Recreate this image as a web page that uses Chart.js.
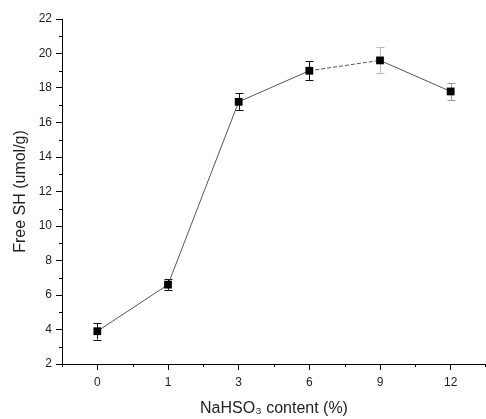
<!DOCTYPE html>
<html>
<head>
<meta charset="utf-8">
<script src="https://cdn.jsdelivr.net/npm/chart.js@4.4.1/dist/chart.umd.min.js"></script>
<style>
  html, body { margin: 0; padding: 0; background: #fff; }
  #wrap { width: 486px; height: 419px; }
</style>
</head>
<body>
<div id="wrap"><canvas id="chart"></canvas></div>
<script>
// NaHSO3 content (%) categories and measured free SH (umol/g)
const categories = ['0', '1', '3', '6', '9', '12'];
const freeSH = [3.9, 6.6, 17.2, 19.0, 19.6, 17.8];
const freeSHErr = [0.48, 0.3, 0.5, 0.55, 0.75, 0.5];
const yTicks = [2, 4, 6, 8, 10, 12, 14, 16, 18, 20, 22];

const FONT = 'Liberation Sans, Arial, sans-serif';
const errColors = ['#111', '#111', '#111', '#111', '#bbb', '#999'];

// error bars drawn under the markers
const errorBars = {
  id: 'errorBars',
  beforeDatasetsDraw(chart) {
    const { ctx, scales: { x, y } } = chart;
    ctx.save();
    ctx.lineWidth = 1;
    freeSH.forEach((v, i) => {
      const px = Math.round(x.getPixelForValue(i)) + 0.5;
      const top = y.getPixelForValue(v + freeSHErr[i]);
      const bot = y.getPixelForValue(v - freeSHErr[i]);
      ctx.strokeStyle = errColors[i];
      ctx.beginPath();
      ctx.moveTo(px, top);
      ctx.lineTo(px, bot);
      ctx.moveTo(px - 4, Math.round(top) + 0.5);
      ctx.lineTo(px + 4, Math.round(top) + 0.5);
      ctx.moveTo(px - 4, Math.round(bot) + 0.5);
      ctx.lineTo(px + 4, Math.round(bot) + 0.5);
      ctx.stroke();
    });
    ctx.restore();
  }
};

// minor ticks between the major ones
const minorTicks = {
  id: 'minorTicks',
  afterDraw(chart) {
    const { ctx, chartArea, scales: { x, y } } = chart;
    ctx.save();
    ctx.strokeStyle = '#000';
    ctx.lineWidth = 1;
    ctx.beginPath();
    for (let i = 1; i < yTicks.length; i += 1) {
      const py = Math.round(y.getPixelForValue((yTicks[i - 1] + yTicks[i]) / 2)) + 0.5;
      ctx.moveTo(chartArea.left - 3, py);
      ctx.lineTo(chartArea.left, py);
    }
    for (let i = -0.5; i <= categories.length - 0.5; i += 1) {
      const px = Math.min(Math.round(x.getPixelForValue(i)) + 0.5, chart.width - 0.5);
      ctx.moveTo(px, chartArea.bottom);
      ctx.lineTo(px, chartArea.bottom + 3);
    }
    ctx.stroke();
    ctx.restore();
  }
};

const ctx = document.getElementById('chart').getContext('2d');
new Chart(ctx, {
  type: 'line',
  data: {
    datasets: [{
      data: freeSH.map((v, i) => ({ x: i, y: v })),
      borderColor: '#555',
      borderWidth: 1,
      backgroundColor: '#000',
      pointStyle: 'rect',
      pointRadius: 5.5,
      pointBorderWidth: 0,
      pointBackgroundColor: '#000',
      clip: false,
      segment: {
        borderDash: (c) => (c.p0DataIndex === 3 ? [4, 2] : undefined),
      },
    }],
  },
  options: {
    responsive: true,
    maintainAspectRatio: false,
    animation: false,
    layout: { autoPadding: false, padding: { top: 19, right: 0, left: 0, bottom: 0 } },
    plugins: { legend: { display: false }, tooltip: { enabled: false } },
    scales: {
      x: {
        type: 'linear',
        min: -0.5,
        max: categories.length - 0.5,
        afterBuildTicks: (scale) => { scale.ticks = categories.map((_, i) => ({ value: i })); },
        afterFit: (scale) => { scale.height = 55; },
        border: { display: true, color: '#000', width: 1 },
        grid: { display: true, drawOnChartArea: false, drawTicks: true, tickLength: 6, color: '#000' },
        ticks: {
          padding: 5,
          color: '#222',
          font: { family: FONT, size: 12 },
          callback: (v) => categories[v],
          maxRotation: 0,
        },
        title: {
          display: true,
          text: 'NaHSO₃ content (%)',
          color: '#222',
          font: { family: FONT, size: 16 },
          padding: { top: 4, bottom: 1 },
        },
      },
      y: {
        min: 2,
        max: 22,
        afterBuildTicks: (scale) => { scale.ticks = yTicks.map((v) => ({ value: v })); },
        afterFit: (scale) => { scale.width = 62; },
        border: { display: true, color: '#000', width: 1 },
        grid: { display: true, drawOnChartArea: false, drawTicks: true, tickLength: 6, color: '#000' },
        ticks: {
          padding: 4,
          color: '#222',
          font: { family: FONT, size: 12 },
        },
        title: {
          display: true,
          text: 'Free SH (umol/g)',
          color: '#222',
          font: { family: FONT, size: 16 },
          padding: { top: 11, bottom: 0 },
        },
      },
    },
  },
  plugins: [errorBars, minorTicks],
});
</script>
</body>
</html>
